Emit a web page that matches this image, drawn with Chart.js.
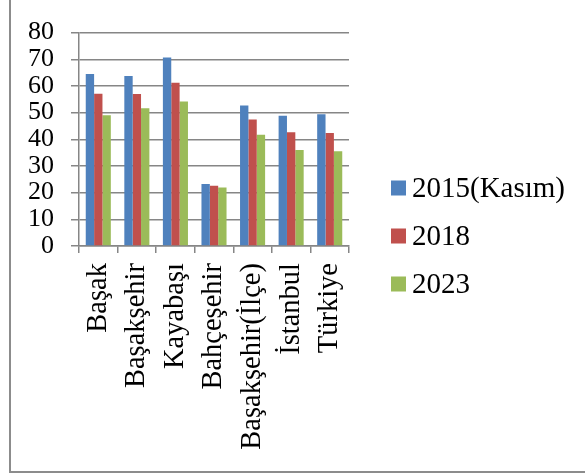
<!DOCTYPE html>
<html>
<head>
<meta charset="utf-8">
<script src="https://cdn.jsdelivr.net/npm/chart.js@4.4.0/dist/chart.umd.min.js"></script>
<style>
  html, body { margin: 0; padding: 0; background: #fff; }
  #wrap { width: 585px; height: 475px; }
</style>
</head>
<body>
<div id="wrap"><canvas id="chart" width="585" height="475"></canvas></div>
<script>
// categories and series
const categories = ['Başak', 'Başakşehir', 'Kayabaşı', 'Bahçeşehir', 'Başakşehir(İlçe)', 'İstanbul', 'Türkiye'];
const seriesNames = ['2015(Kasım)', '2018', '2023'];
const values2015 = [64.5, 63.7, 70.7, 23.2, 52.7, 48.8, 49.4];
const values2018 = [57.1, 57.0, 61.2, 22.6, 47.4, 42.6, 42.4];
const values2023 = [49.0, 51.6, 54.2, 21.9, 41.7, 36.0, 35.5];
const yTicks = [0, 10, 20, 30, 40, 50, 60, 70, 80];

const colors = ['#4F81BD', '#C0504D', '#9BBB59'];
const gridColor = '#868686';
const serif = "'Liberation Serif', 'Times New Roman', serif";

// left and bottom frame lines, like the original picture
const framePlugin = {
    id: 'frame',
    beforeDraw(chart) {
        const ctx = chart.ctx;
        ctx.save();
        ctx.strokeStyle = '#8c8c8c';
        ctx.lineWidth = 2;
        ctx.beginPath();
        ctx.moveTo(10, 0);
        ctx.lineTo(10, 472);
        ctx.lineTo(585, 472);
        ctx.stroke();
        ctx.restore();
    }
};

// legend on the right side (built-in one gets squeezed too narrow here)
const sideLegend = {
    id: 'sideLegend',
    afterDraw(chart) {
        const ctx = chart.ctx;
        const x = chart.chartArea.right + 42;
        const rowGap = 48;
        const sets = chart.data.datasets;
        const midY = chart.height / 2 - 2;
        const firstY = midY - rowGap * (sets.length - 1) / 2;
        ctx.save();
        ctx.font = '29px ' + serif;
        ctx.textBaseline = 'middle';
        ctx.fillStyle = '#000';
        sets.forEach((ds, i) => {
            const cy = firstY + i * rowGap;
            ctx.fillStyle = ds.backgroundColor;
            ctx.fillRect(x, cy - 7, 15, 15);
            ctx.fillStyle = '#000';
            ctx.fillText(ds.label, x + 21, cy + 2);
        });
        ctx.restore();
    }
};

const allValues = [values2015, values2018, values2023];
const datasets = seriesNames.map((name, i) => ({
    label: name,
    data: allValues[i],
    backgroundColor: colors[i],
    borderWidth: 0,
    categoryPercentage: 0.65,
    barPercentage: 1.0,
}));

new Chart(document.getElementById('chart'), {
    type: 'bar',
    data: { labels: categories, datasets: datasets },
    options: {
        responsive: false,
        animation: false,
        layout: { padding: { top: 28, right: 236, bottom: 0, left: 0 } },
        plugins: {
            tooltip: { enabled: false },
            legend: { display: false },
        },
        scales: {
            x: {
                grid: { drawOnChartArea: false, color: gridColor, lineWidth: 1.5, tickLength: 7 },
                border: { color: gridColor, width: 1.5 },
                ticks: {
                    autoSkip: false,
                    maxRotation: 90,
                    minRotation: 90,
                    padding: 10,
                    color: '#000',
                    font: { family: serif, size: 28.5 },
                },
                afterFit(s) { s.height = 475 - 246; },
            },
            y: {
                min: 0,
                max: 80,
                afterBuildTicks(s) { s.ticks = yTicks.map(v => ({ value: v })); },
                grid: { color: gridColor, lineWidth: 1.5, tickLength: 8 },
                border: { color: gridColor, width: 1.5 },
                ticks: {
                    autoSkip: false,
                    padding: 17,
                    color: '#000',
                    font: { family: serif, size: 26 },
                },
                afterFit(s) { s.width = 79; },
            },
        },
    },
    plugins: [framePlugin, sideLegend],
});
</script>
</body>
</html>
